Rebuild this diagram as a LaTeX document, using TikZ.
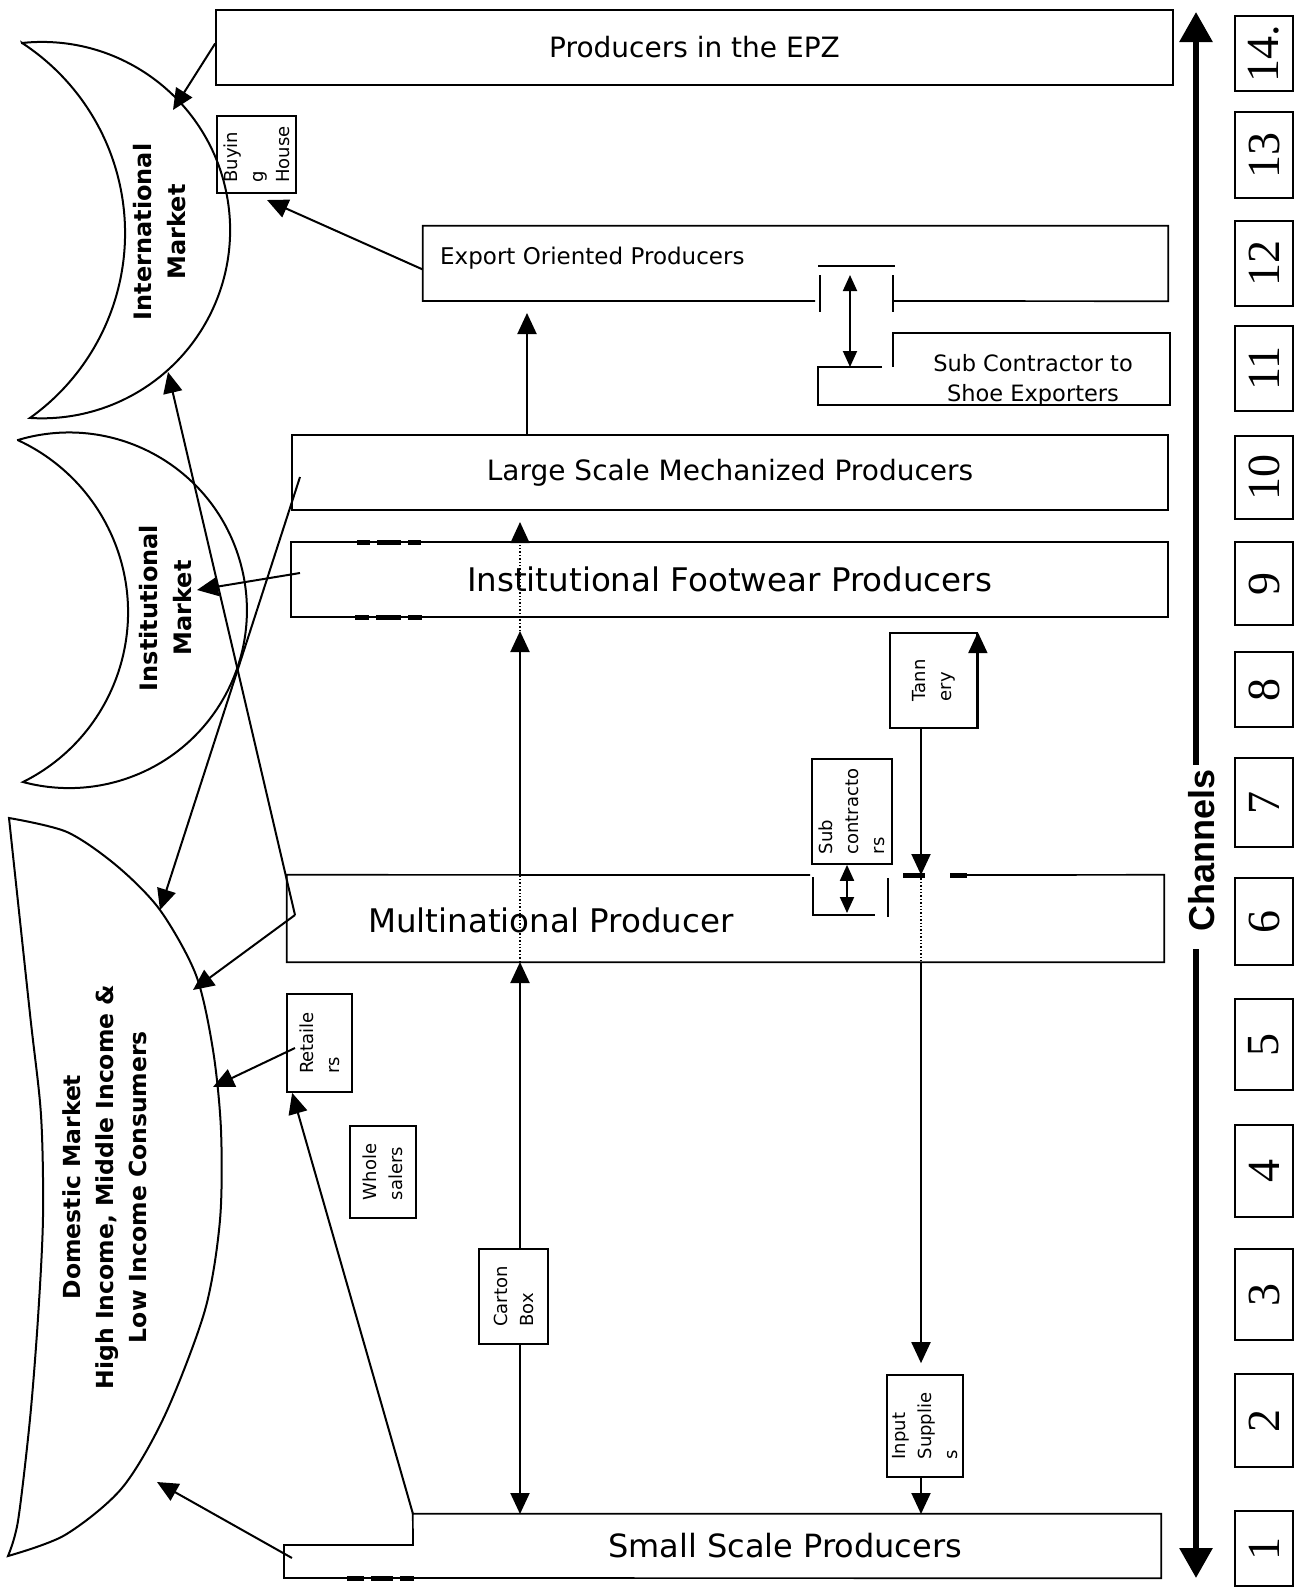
\documentclass[tikz,border=0pt]{standalone}
\usepackage{fontspec}
\setmainfont{DejaVu Sans}
\newfontfamily\chanfont{Liberation Sans}
\newfontfamily\numfont{Liberation Serif}
\usetikzlibrary{arrows.meta}

\tikzset{
  boxline/.style={line width=1.7pt, line join=miter},
  pbox/.style={draw, line width=1.7pt, inner sep=0pt},
  vtext/.style={rotate=90, align=left, font=\fontsize{18}{26}\selectfont},
  flow/.style={line width=2pt, -{Triangle[length=21pt,width=19pt]}},
  twoway/.style={line width=1.9pt, {Triangle[length=16pt,width=14pt]}-{Triangle[length=16pt,width=14pt]}},
  dotline/.style={line width=1.4pt, dotted},
  heavy/.style={line width=5pt},
  market/.style={line width=2pt, line join=miter},
  mtext/.style={rotate=90, align=center, inner sep=0pt, font=\bfseries\fontsize{24}{34}\selectfont},
  chanarrow/.style={line width=6pt, -{Triangle[length=30pt,width=32pt]}},
  chbox/.style={draw, line width=1.7pt, rotate=90, inner sep=0pt, minimum height=58pt,
                font=\numfont\fontsize{46}{46}\selectfont},
}

\begin{document}
\begin{tikzpicture}[x=1pt,y=-1pt]
\useasboundingbox (0,0) rectangle (1314,1590);
\fill[white] (0,0) rectangle (1314,1590);

% ---------- markets ----------
\draw[market] (22,43) arc[start angle=96.08, end angle=-93.64, radius=188.2pt]
  arc[start angle=-54.46, end angle=56.91, radius=227.1pt] -- cycle;
\draw[market] (18,440) arc[start angle=106.70, end angle=-105.03, radius=177.8pt]
  arc[start angle=-63.52, end angle=65.19, radius=189.6pt] -- cycle;
\draw[market] plot[smooth] coordinates {(9,818) (67,832) (117,866) (160,910) (196,975) (213,1050)
    (221,1130) (220,1220) (205,1310) (165,1415) (122,1488) (65,1535) (8,1556)}
  -- plot[smooth] coordinates {(8,1556) (18,1521) (30,1419) (38,1318) (43,1217) (41,1115) (30,1014) (9,818)}
  -- cycle;
\node[mtext] (intl) at (160,232) {International\\Market};
\node[mtext] (inst) at (166,608) {Institutional\\Market};
\node[mtext, font=\bfseries\fontsize{23.5}{33}\selectfont] (dom) at (105,1187)
  {Domestic Market\\High Income, Middle Income \&\\Low Income Consumers};

% ---------- producers ----------
\node[pbox, minimum width=957pt, minimum height=75pt, font=\fontsize{28}{32}\selectfont]
  (epz) at (694.5,47.5) {Producers in the EPZ};
\node[pbox, vtext, minimum width=77pt, minimum height=79pt] (buy) at (256.5,154.5) {Buyin\\g\\House};

% export oriented producers, open on its lower edge
\node[minimum width=745pt, minimum height=75pt, inner sep=0pt] (exp) at (795.5,263.5) {};
\draw[boxline] (815,301) -| (exp.north west) -| (exp.south east) -- (893,301);
\node[anchor=west, inner sep=0pt, font=\fontsize{23}{28}\selectfont] (expT) at (440,258) {Export Oriented Producers};
\draw[boxline] (818,266) -- (895,266) (820,275) -- (820,312) (893,275) -- (893,312);

% sub contractor to shoe exporters
\draw[boxline] (882,367) -- (818,367) -- (818,405) -- (1170,405) -- (1170,333) -- (893,333) -- (893,367);
\node[align=center, inner sep=0pt, font=\fontsize{22.5}{30}\selectfont] (sce) at (1033,380)
  {Sub Contractor to\\Shoe Exporters};
\coordinate (expNotch) at (850,275);
\coordinate (sceNotch) at (850,367);
\draw[twoway] (expNotch) -- (sceNotch);

\node[pbox, minimum width=876pt, minimum height=75pt, font=\fontsize{28}{32}\selectfont]
  (lsp) at (730,472.5) {Large Scale Mechanized Producers};
\node[pbox, minimum width=877pt, minimum height=75pt, font=\fontsize{32.5}{36}\selectfont]
  (ifp) at (729.5,579.5) {Institutional Footwear Producers};
\draw[heavy] (357,542) -- (370,542) (377,542) -- (401,542) (408,542) -- (421,542)
             (355,617) -- (369,617) (376,617) -- (401,617) (408,617) -- (422,617);

\node[pbox, vtext, minimum width=95pt, minimum height=87pt] (tan) at (933.5,680.5) {Tann\\ery};
\node[pbox, vtext, minimum width=105pt, minimum height=80pt] (sub) at (852,811.5) {Sub\\contracto\\rs};

% multinational producer, with the sub-contracting notch in its upper edge
\node[minimum width=877pt, minimum height=87pt, inner sep=0pt] (mnp) at (725.5,918.5) {};
\draw[boxline] (810,875) -- (mnp.north west) -- (mnp.south west) -- (mnp.south east)
  -- (mnp.north east) -- (967,875);
\draw[heavy] (903,875) -- (925,875) (950,875) -- (967,875);
\draw[boxline] (813,877) -- (813,915) -- (875,915) (888,878) -- (888,917);
\node[anchor=west, inner sep=0pt, font=\fontsize{32.5}{36}\selectfont] (mnpT) at (368,920) {Multinational Producer};

\node[pbox, vtext, minimum width=98pt, minimum height=65pt] (ret) at (319.5,1043) {Retaile\\rs};
\node[pbox, vtext, minimum width=92pt, minimum height=66pt] (whs) at (383,1172) {Whole\\salers};
\node[pbox, vtext, minimum width=95pt, minimum height=69pt] (cb) at (513.5,1296.5) {Carton\\Box};
\node[pbox, vtext, minimum width=102pt, minimum height=76pt] (ins) at (925,1426) {Input\\Supplie\\s};

% small scale producers, stepped at its left end
\node[minimum width=748pt, minimum height=64pt, inner sep=0pt] (ssp) at (787,1546) {};
\draw[boxline] (ssp.north west) -- (ssp.north east) -- (ssp.south east) -- (284,1578)
  -- (284,1545) -- (413,1545) -- cycle;
\draw[heavy] (347,1578) -- (364,1578) (371,1578) -- (393,1578) (400,1578) -- (414,1578);
\node[inner sep=0pt, font=\fontsize{32}{36}\selectfont] (sspT) at (785,1546) {Small Scale Producers};

% ---------- flows to the markets ----------
\coordinate (intTop) at (173,110);
\coordinate (intLow) at (168,372);
\coordinate (buyIn) at (267,200);
\coordinate (instIn) at (197,590);
\coordinate (domA) at (160,910);
\coordinate (domB) at (193,990);
\coordinate (domC) at (213,1087);
\coordinate (domD) at (157,1482);
\coordinate (mnpCorner) at (295,915);
\coordinate (lspTail) at (300,477);
\coordinate (ifpTail) at (300,573);
\coordinate (retTail) at (295,1048);
\coordinate (sspStep) at (413,1514);
\coordinate (sspTail) at (292,1558);

\draw[flow] ([yshift=4pt]epz.west) -- (intTop);
\draw[flow] ([yshift=-6pt]exp.west) -- (buyIn);
\draw[flow] (mnpCorner) -- (intLow);
\draw[flow] (mnpCorner) -- (domB);
\draw[flow] (lspTail) -- (domA);
\draw[flow] (ifpTail) -- (instIn);
\draw[flow] (retTail) -- (domC);
\draw[flow] (sspStep) -- ([xshift=6pt]ret.north west);
\draw[flow] (sspTail) -- (domD);

% ---------- vertical supply lines ----------
\coordinate (mnpB1) at (520,962);
\coordinate (mnpT1) at (520,875);
\coordinate (ifpB1) at (520,631);
\coordinate (lspB1) at (520,522);
\coordinate (lspT2) at (527,435);
\coordinate (expB2) at (527,313);
\coordinate (sspT1) at (520,1514);
\draw[flow] (cb.east -| mnpB1) -- (mnpB1);
\draw[flow] (cb.west -| sspT1) -- (sspT1);
\draw[dotline] (mnpB1) -- (mnpT1);
\draw[flow] (mnpT1) -- (ifpB1);
\draw[dotline, -{Triangle[length=21pt,width=19pt]}] (ifpB1) -- (lspB1);
\draw[flow] (lspT2) -- (expB2);

\coordinate (mnpT2) at (921,875);
\coordinate (mnpB2) at (921,962);
\coordinate (sspT2) at (921,1514);
\draw[flow] (tan.west -| mnpT2) -- (mnpT2);
\draw[dotline] (mnpT2) -- (mnpB2);
\draw[flow] (mnpB2) -- ([yshift=11pt]ins.east -| mnpB2);
\draw[flow] (ins.west -| sspT2) -- (sspT2);
\draw[flow] (tan.south west) -- (tan.south east);
\coordinate (mnpNotch) at (847,913);
\draw[twoway] ([xshift=-5pt]sub.west) -- (mnpNotch);

% ---------- channels scale ----------
\node[rotate=90, inner sep=0pt, font=\chanfont\bfseries\fontsize{36}{40}\selectfont] (chan) at (1202,850) {Channels};
\coordinate (chTop) at (1196,12);
\coordinate (chBot) at (1196,1578);
\draw[chanarrow] ([yshift=4pt]chan.east -| chTop) -- (chTop);
\draw[chanarrow] ([yshift=-18pt]chan.west -| chBot) -- (chBot);

\foreach \n/\t/\yc/\h in {14/14./53.5/75, 13/13/155/86, 12/12/263.5/85, 11/11/368.5/85,
    10/10/477.5/83, 9/9/583.5/83, 8/8/689.5/75, 7/7/802.5/89, 6/6/921.5/87,
    5/5/1044.5/91, 4/4/1171/92, 3/3/1294.5/91, 2/2/1420.5/93, 1/1/1548.5/75}
  \node[chbox, minimum width=\h pt] (ch\n) at (1264,\yc) {\t};
\end{tikzpicture}
\end{document}
